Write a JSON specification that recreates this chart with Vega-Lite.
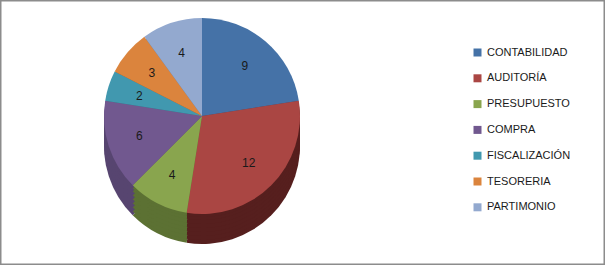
{
  "$schema": "https://vega.github.io/schema/vega-lite/v6.json",
  "width": 605,
  "height": 265,
  "autosize": {"type": "fit", "contains": "padding"},
  "padding": 0,
  "background": "white",
  "config": {
    "view": {"stroke": "#8c8c8c", "strokeWidth": 3},
    "legend": {
      "labelFont": "Liberation Sans",
      "labelFontSize": 11,
      "labelColor": "#1a1a1a",
      "symbolType": "square",
      "symbolSize": 64,
      "symbolStrokeWidth": 0,
      "rowPadding": 13.8,
      "labelOffset": 4
    }
  },
  "data": {
    "values": [
      {"area": "CONTABILIDAD", "valor": 9, "orden": 1},
      {"area": "AUDITORÍA", "valor": 12, "orden": 2},
      {"area": "PRESUPUESTO", "valor": 4, "orden": 3},
      {"area": "COMPRA", "valor": 6, "orden": 4},
      {"area": "FISCALIZACIÓN", "valor": 2, "orden": 5},
      {"area": "TESORERIA", "valor": 3, "orden": 6},
      {"area": "PARTIMONIO", "valor": 4, "orden": 7}
    ]
  },
  "encoding": {
    "theta": {"field": "valor", "type": "quantitative", "stack": true},
    "order": {"field": "orden", "type": "quantitative"},
    "x": {"value": 202}
  },
  "layer": [
    {
      "mark": {"type": "arc", "radius": 98, "color": "#000"},
      "encoding": {"y": {"value": 146}, "color": {"field": "area", "type": "nominal", "legend": null, "scale": {"domain": ["CONTABILIDAD", "AUDITORÍA", "PRESUPUESTO", "COMPRA", "FISCALIZACIÓN", "TESORERIA", "PARTIMONIO"], "range": ["#2f4f77", "#561f1e", "#5c7133", "#574570", "#2e6d7d", "#995b2a", "#65748f"]}}}
    },
    {
      "mark": {"type": "arc", "radius": 98},
      "encoding": {"y": {"value": 142}, "color": {"field": "area", "type": "nominal", "legend": null, "scale": {"domain": ["CONTABILIDAD", "AUDITORÍA", "PRESUPUESTO", "COMPRA", "FISCALIZACIÓN", "TESORERIA", "PARTIMONIO"], "range": ["#2f4f77", "#561f1e", "#5c7133", "#574570", "#2e6d7d", "#995b2a", "#65748f"]}}}
    },
    {
      "mark": {"type": "arc", "radius": 98},
      "encoding": {"y": {"value": 138}, "color": {"field": "area", "type": "nominal", "legend": null, "scale": {"domain": ["CONTABILIDAD", "AUDITORÍA", "PRESUPUESTO", "COMPRA", "FISCALIZACIÓN", "TESORERIA", "PARTIMONIO"], "range": ["#2f4f77", "#561f1e", "#5c7133", "#574570", "#2e6d7d", "#995b2a", "#65748f"]}}}
    },
    {
      "mark": {"type": "arc", "radius": 98},
      "encoding": {"y": {"value": 134}, "color": {"field": "area", "type": "nominal", "legend": null, "scale": {"domain": ["CONTABILIDAD", "AUDITORÍA", "PRESUPUESTO", "COMPRA", "FISCALIZACIÓN", "TESORERIA", "PARTIMONIO"], "range": ["#2f4f77", "#561f1e", "#5c7133", "#574570", "#2e6d7d", "#995b2a", "#65748f"]}}}
    },
    {
      "mark": {"type": "arc", "radius": 98},
      "encoding": {"y": {"value": 130}, "color": {"field": "area", "type": "nominal", "legend": null, "scale": {"domain": ["CONTABILIDAD", "AUDITORÍA", "PRESUPUESTO", "COMPRA", "FISCALIZACIÓN", "TESORERIA", "PARTIMONIO"], "range": ["#2f4f77", "#561f1e", "#5c7133", "#574570", "#2e6d7d", "#995b2a", "#65748f"]}}}
    },
    {
      "mark": {"type": "arc", "radius": 98},
      "encoding": {"y": {"value": 126}, "color": {"field": "area", "type": "nominal", "legend": null, "scale": {"domain": ["CONTABILIDAD", "AUDITORÍA", "PRESUPUESTO", "COMPRA", "FISCALIZACIÓN", "TESORERIA", "PARTIMONIO"], "range": ["#2f4f77", "#561f1e", "#5c7133", "#574570", "#2e6d7d", "#995b2a", "#65748f"]}}}
    },
    {
      "mark": {"type": "arc", "radius": 98},
      "encoding": {"y": {"value": 122}, "color": {"field": "area", "type": "nominal", "legend": null, "scale": {"domain": ["CONTABILIDAD", "AUDITORÍA", "PRESUPUESTO", "COMPRA", "FISCALIZACIÓN", "TESORERIA", "PARTIMONIO"], "range": ["#2f4f77", "#561f1e", "#5c7133", "#574570", "#2e6d7d", "#995b2a", "#65748f"]}}}
    },
    {
      "mark": {"type": "arc", "radius": 98},
      "encoding": {"y": {"value": 119}, "color": {"field": "area", "type": "nominal", "legend": null, "scale": {"domain": ["CONTABILIDAD", "AUDITORÍA", "PRESUPUESTO", "COMPRA", "FISCALIZACIÓN", "TESORERIA", "PARTIMONIO"], "range": ["#2f4f77", "#561f1e", "#5c7133", "#574570", "#2e6d7d", "#995b2a", "#65748f"]}}}
    },
    {
      "mark": {"type": "arc", "radius": 98},
      "encoding": {
        "y": {"value": 116},
        "color": {
          "field": "area", "type": "nominal",
          "scale": {
            "domain": ["CONTABILIDAD", "AUDITORÍA", "PRESUPUESTO", "COMPRA", "FISCALIZACIÓN", "TESORERIA", "PARTIMONIO"],
            "range": ["#4572A7", "#AA4643", "#89A54E", "#71588F", "#4198AF", "#DB843D", "#93A9CF"]
          },
          "legend": {"title": null, "orient": "none", "legendX": 472, "legendY": 47}
        }
      }
    },
    {
      "mark": {"type": "text", "radius": 66, "font": "Liberation Sans", "fontSize": 12, "color": "#1a1a1a"},
      "encoding": {
        "y": {"value": 116},
        "text": {"field": "valor", "type": "quantitative"}
      }
    }
  ],
  "resolve": {"scale": {"color": "independent"}}
}
